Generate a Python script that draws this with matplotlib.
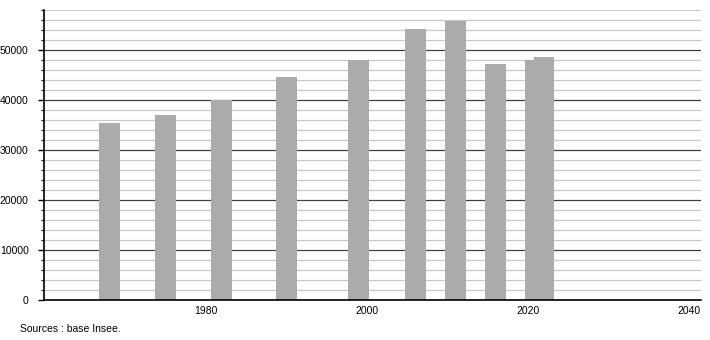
import matplotlib
matplotlib.use("Agg")
import matplotlib.pyplot as plt
from matplotlib.ticker import MultipleLocator

YEARS = [1968, 1975, 1982, 1990, 1999, 2006, 2011, 2016, 2021, 2022]
POPULATION = [35500, 37000, 40000, 44600, 48000, 54200, 55900, 47300, 48100, 48600]
X_TICKS = [1980, 2000, 2020, 2040]
Y_TICKS = [0, 10000, 20000, 30000, 40000, 50000]
SOURCE_TEXT = "Sources : base Insee."

plt.rcParams["font.family"] = ["Liberation Sans", "DejaVu Sans"]

fig = plt.figure(figsize=(7.1, 3.4), dpi=100)
ax = fig.add_axes([44 / 710, 1 - 300 / 340, (701 - 44) / 710, (300 - 10) / 340])

ax.bar(YEARS, POPULATION, width=2.6, color="#ababab", zorder=3)

ax.set_xlim(1959.9, 2041.5)
ax.set_ylim(0, 58000)

ax.set_xticks(X_TICKS)
ax.set_yticks(Y_TICKS)
ax.yaxis.set_minor_locator(MultipleLocator(2000))

ax.grid(which="minor", axis="y", color="#c8c8c8", linewidth=0.9, zorder=0)
ax.grid(which="major", axis="y", color="#404040", linewidth=0.9, zorder=1)
ax.set_axisbelow(True)

for side in ("top", "right"):
    ax.spines[side].set_visible(False)
ax.spines["left"].set_linewidth(1.2)
ax.spines["bottom"].set_linewidth(1.2)
ax.spines["left"].set_zorder(4)
ax.spines["bottom"].set_zorder(4)

ax.tick_params(axis="y", which="major", length=4, width=1, pad=7, labelsize=7.5, colors="black")
ax.tick_params(axis="y", which="minor", length=2, width=0.8, colors="black")
ax.tick_params(axis="x", which="both", length=0, pad=4, labelsize=7.5)

fig.text(20 / 710, 1 - 329 / 340, SOURCE_TEXT, fontsize=7.5, va="center", ha="left")

fig.savefig("out.png", dpi=100)
